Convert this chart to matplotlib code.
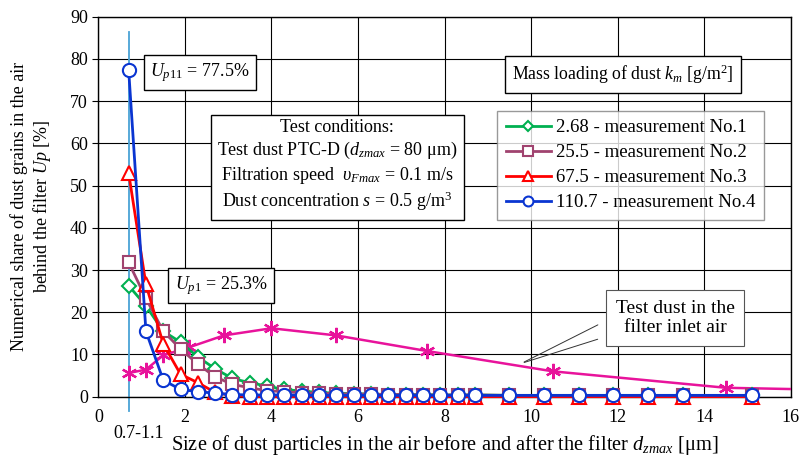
import matplotlib
matplotlib.use("Agg")
import matplotlib.pyplot as plt

plt.rcParams["font.family"] = ["Liberation Serif", "DejaVu Serif"]
plt.rcParams["mathtext.fontset"] = "custom"
plt.rcParams["mathtext.rm"] = "Liberation Serif"
plt.rcParams["mathtext.it"] = "Liberation Serif:italic"

# particle size classes [um]
sizes = [0.7, 1.1, 1.5, 1.9, 2.3, 2.7, 3.1, 3.5, 3.9, 4.3, 4.7, 5.1, 5.5, 5.9,
         6.3, 6.7, 7.1, 7.5, 7.9, 8.3, 8.7, 9.5, 10.3, 11.1, 11.9, 12.7, 13.5, 15.1]

meas1 = [26.3, 21.5, 15.5, 12.9, 9.4, 6.6, 4.3, 3.3, 2.5, 1.7, 1.3, 1.0, 0.8, 0.7,
         0.6, 0.5, 0.5, 0.5, 0.4, 0.4, 0.4, 0.3, 0.3, 0.3, 0.3, 0.3, 0.3, 0.3]
meas2 = [31.8, 23.3, 15.5, 11.3, 7.7, 4.7, 2.9, 2.1, 1.4, 1.2, 0.9, 0.8, 0.7, 0.6,
         0.6, 0.5, 0.5, 0.4, 0.4, 0.4, 0.4, 0.3, 0.3, 0.3, 0.3, 0.3, 0.3, 0.3]
meas3 = [53.0, 26.6, 12.5, 5.3, 3.3, 1.0, 0.2, 0.0, 0.0, 0.0, 0.0, 0.0, 0.0, 0.0,
         0.0, 0.0, 0.0, 0.0, 0.0, 0.0, 0.0, 0.0, 0.0, 0.0, 0.0, 0.0, 0.0, 0.0]
meas4 = [77.5, 15.5, 3.9, 1.7, 1.2, 0.8, 0.5, 0.4, 0.4, 0.4, 0.3, 0.3, 0.3, 0.3,
         0.3, 0.3, 0.3, 0.3, 0.3, 0.3, 0.3, 0.3, 0.3, 0.3, 0.3, 0.3, 0.3, 0.3]

labels = ["2.68 - measurement No.1", "25.5 - measurement No.2",
          "67.5 - measurement No.3", "110.7 - measurement No.4"]

# test dust at the filter inlet
inlet_x = [0.7, 1.1, 1.5, 2.1, 2.9, 4.0, 5.5, 7.6, 10.5, 14.5, 17.0]
inlet_y = [5.6, 6.4, 9.8, 11.7, 14.5, 16.2, 14.5, 10.8, 6.0, 2.1, 1.6]

x_ticks = [0, 2, 4, 6, 8, 10, 12, 14, 16]
y_ticks = [0, 10, 20, 30, 40, 50, 60, 70, 80, 90]


fig = plt.figure(figsize=(8.02, 4.65), dpi=100)
ax = fig.add_axes([0.1226, 0.147, 0.8634, 0.817])

ax.set_xlim(0, 16)
ax.set_ylim(0, 90)
ax.set_xticks(x_ticks)
ax.set_yticks(y_ticks)
ax.grid(True, color="black", lw=0.8)
ax.set_axisbelow(True)
for s in ax.spines.values():
    s.set_color("black")
    s.set_linewidth(1.0)
ax.tick_params(labelsize=13, direction="out", length=4, color="black")
ax.tick_params(axis="x", pad=9, length=0)

# separating line at the 0.7-1.1 class
ax.plot([0.7, 0.7], [-3.5, 86.5], color="#4aa3d6", lw=1.3, clip_on=False, zorder=2)

ax.plot(inlet_x, inlet_y, color="#e8139b", lw=1.8, marker=(6, 2, 0),
        ms=11, mew=1.6, zorder=3)

styles = [
    (meas1, "#00b050", "D", 7),
    (meas2, "#a0436f", "s", 9),
    (meas3, "#ff0000", "^", 10),
    (meas4, "#0a35d1", "o", 9.5),
]
handles = []
for (vals, col, mk, ms), lab in zip(styles, labels):
    h, = ax.plot(sizes, vals, color=col, lw=2, marker=mk, ms=ms, mfc="white",
                 mec=col, mew=1.5, label=lab, clip_on=False, zorder=4)
    handles.append(h)

leg = ax.legend(handles=handles, loc="upper left", bbox_to_anchor=(0.576, 0.753),
                borderaxespad=0, fontsize=13.5, frameon=True, fancybox=False,
                edgecolor="#808080", handlelength=2.4, borderpad=0.45,
                labelspacing=0.42, handletextpad=0.3, markerscale=0.75)
leg.get_frame().set_linewidth(1.0)
leg.set_zorder(6)

box = dict(boxstyle="square,pad=0.35", fc="white", ec="black", lw=1.0)

ax.text(2.35, 76.8, r"$U_{p11}$ = 77.5%", fontsize=13, ha="center", va="center",
        bbox=box, zorder=6)
ax.text(2.84, 26.3, r"$U_{p1}$ = 25.3%", fontsize=13, ha="center", va="center",
        bbox=box, zorder=6)
ax.text(5.52, 54.6,
        "Test conditions:\n"
        r"Test dust PTC-D ($d_{zmax}$ = 80 μm)" "\n"
        r"Filtration speed  $\upsilon_{Fmax}$ = 0.1 m/s" "\n"
        r"Dust concentration $s$ = 0.5 g/m$^3$",
        fontsize=13, ha="center", va="center", linespacing=1.25,
        bbox=dict(boxstyle="square,pad=0.35", fc="white", ec="black", lw=1.0),
        zorder=6)
ax.text(12.12, 76.3, r"Mass loading of dust $k_m$ [g/m$^2$]", fontsize=12.8,
        ha="center", va="center",
        bbox=dict(boxstyle="square,pad=0.4", fc="white", ec="black", lw=1.0),
        zorder=6)

# callout for the inlet curve
ax.text(13.33, 18.6, "Test dust in the\nfilter inlet air", fontsize=14,
        ha="center", va="center", linespacing=1.2,
        bbox=dict(boxstyle="square,pad=0.5", fc="white", ec="#555555", lw=0.8),
        zorder=6)
ax.annotate("", xy=(9.78, 7.9), xytext=(11.6, 17.3),
            arrowprops=dict(arrowstyle="-", lw=0.7, color="#333333"), zorder=5)
ax.annotate("", xy=(9.78, 7.9), xytext=(11.6, 13.8),
            arrowprops=dict(arrowstyle="-", lw=0.7, color="#333333"), zorder=5)

ax.text(0.94, -8.8, "0.7-1.1", fontsize=13, ha="center", va="center")

ax.set_xlabel(r"Size of dust particles in the air before and after the filter $d_{zmax}$ [μm]",
              fontsize=14.7, labelpad=5)
ax.set_ylabel("Numerical share of dust grains in the air\n"
              r"behind the filter $Up$ [%]", fontsize=13, labelpad=12)

fig.savefig("out.png", dpi=100)
